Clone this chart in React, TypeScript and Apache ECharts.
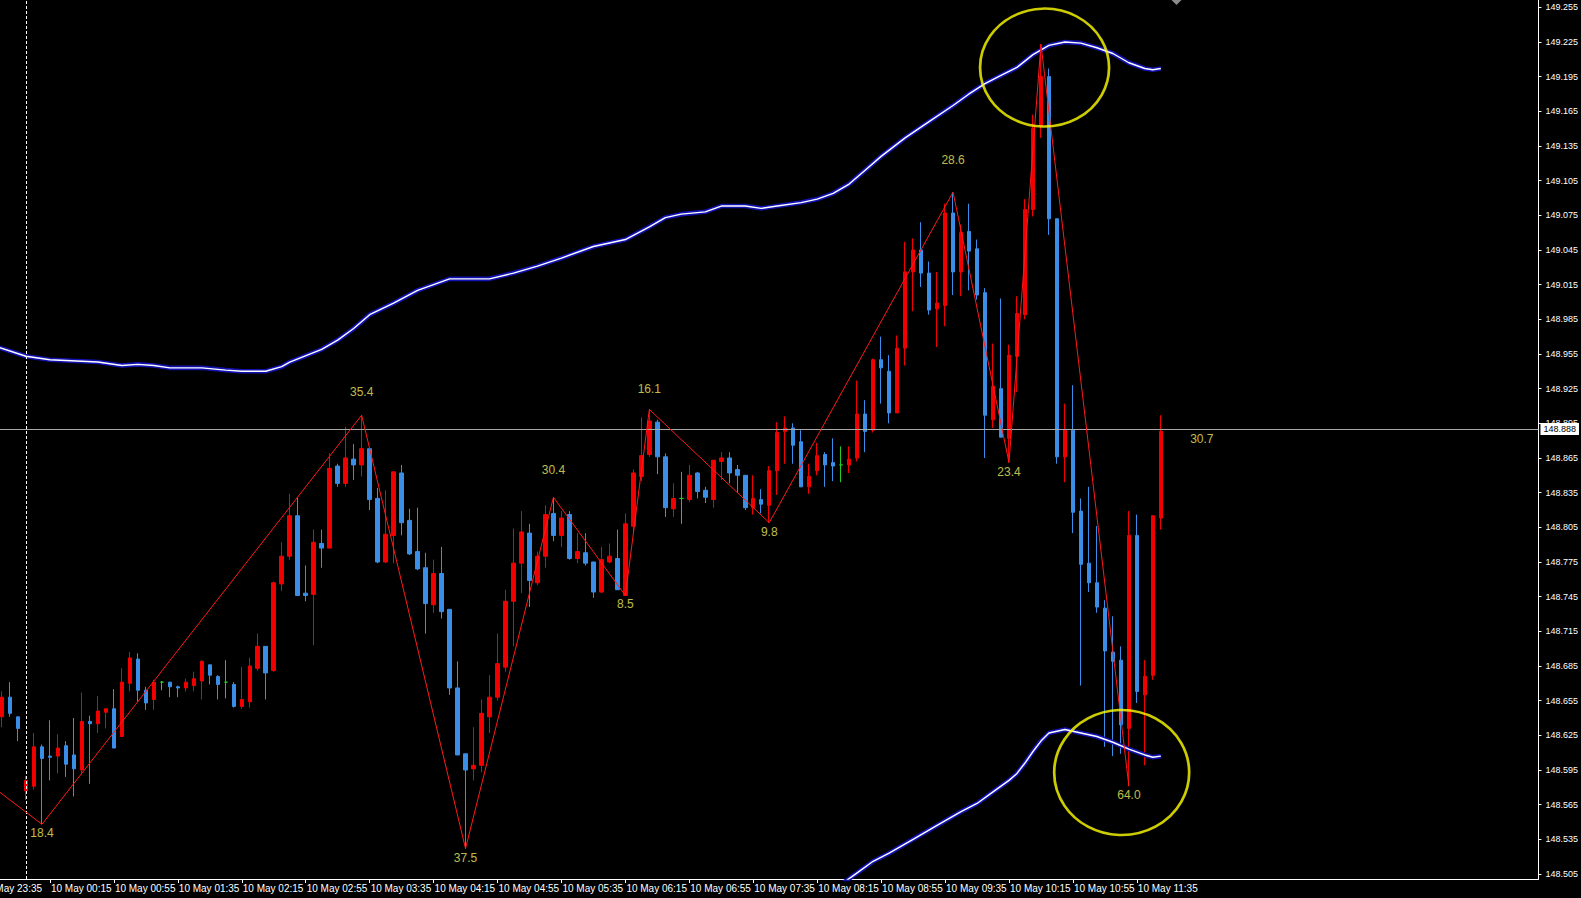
import React, { useEffect, useRef } from 'react';
import * as echarts from 'echarts';

// 5-minute bars, index 0 = 9 May 23:45
const OPEN = [
  148.641, 148.658, 148.641, 148.577, 148.581, 148.615, 148.607, 148.607, 148.616, 148.608,
  148.595, 148.637, 148.635, 148.645, 148.648, 148.624, 148.670, 148.691, 148.664, 148.656,
  148.671, 148.671, 148.667, 148.666, 148.668, 148.672, 148.686, 148.676, 148.671, 148.669,
  148.650, 148.654, 148.683, 148.702, 148.681, 148.756, 148.780, 148.815, 148.748, 148.747,
  148.791, 148.787, 148.858, 148.843, 148.864, 148.859, 148.873, 148.830, 148.775, 148.798,
  148.852, 148.811, 148.784, 148.770, 148.738, 148.765, 148.734, 148.666, 148.609, 148.596,
  148.599, 148.641, 148.658, 148.684, 148.741, 148.774, 148.800, 148.757, 148.780, 148.817,
  148.798, 148.816, 148.778, 148.783, 148.775, 148.749, 148.775, 148.778, 148.746, 148.806,
  148.849, 148.868, 148.896, 148.866, 148.821, 148.830, 148.829, 148.852, 148.837, 148.829,
  148.862, 148.865, 148.855, 148.850, 148.822, 148.829, 148.824, 148.854, 148.888, 148.891,
  148.879, 148.840, 148.854, 148.868, 148.861, 148.859, 148.859, 148.865, 148.903, 148.889,
  148.950, 148.940, 148.904, 148.960, 149.026, 149.045, 149.025, 148.994, 148.997, 149.077,
  149.026, 149.061, 149.046, 149.008, 148.898, 148.925, 148.882, 148.953, 148.989, 149.080,
  149.152, 149.195, 149.072, 148.866, 148.889, 148.819, 148.774, 148.757, 148.735, 148.697,
  148.690, 148.631, 148.798, 148.660, 148.677, 148.813,
];
const HIGH = [
  148.663, 148.671, 148.641, 148.590, 148.627, 148.617, 148.638, 148.626, 148.620, 148.640,
  148.662, 148.642, 148.659, 148.648, 148.665, 148.683, 148.697, 148.696, 148.667, 148.673,
  148.672, 148.671, 148.668, 148.674, 148.680, 148.690, 148.686, 148.677, 148.690, 148.671,
  148.684, 148.692, 148.713, 148.702, 148.758, 148.792, 148.834, 148.831, 148.772, 148.803,
  148.803, 148.869, 148.860, 148.892, 148.877, 148.902, 148.873, 148.839, 148.837, 148.853,
  148.859, 148.821, 148.822, 148.783, 148.777, 148.788, 148.734, 148.689, 148.609, 148.632,
  148.656, 148.677, 148.713, 148.751, 148.804, 148.819, 148.808, 148.784, 148.824, 148.831,
  148.819, 148.819, 148.800, 148.800, 148.775, 148.788, 148.791, 148.803, 148.817, 148.855,
  148.900, 148.907, 148.898, 148.869, 148.843, 148.853, 148.859, 148.853, 148.840, 148.863,
  148.870, 148.870, 148.859, 148.850, 148.850, 148.838, 148.858, 148.896, 148.901, 148.895,
  148.889, 148.860, 148.878, 148.870, 148.882, 148.875, 148.875, 148.932, 148.915, 148.951,
  148.970, 148.954, 148.971, 149.052, 149.055, 149.069, 149.035, 149.026, 149.085, 149.095,
  149.067, 149.085, 149.054, 149.012, 148.964, 149.003, 148.963, 149.005, 149.089, 149.162,
  149.223, 149.202, 149.072, 148.912, 148.928, 148.830, 148.840, 148.806, 148.742, 148.728,
  148.702, 148.819, 148.816, 148.690, 148.815, 148.902,
];
const LOW = [
  148.632, 148.641, 148.620, 148.569, 148.578, 148.548, 148.586, 148.592, 148.589, 148.572,
  148.591, 148.583, 148.627, 148.631, 148.614, 148.624, 148.663, 148.654, 148.647, 148.647,
  148.664, 148.658, 148.658, 148.663, 148.663, 148.656, 148.669, 148.656, 148.657, 148.649,
  148.648, 148.649, 148.681, 148.656, 148.680, 148.750, 148.777, 148.746, 148.741, 148.703,
  148.770, 148.787, 148.840, 148.840, 148.846, 148.849, 148.820, 148.774, 148.774, 148.774,
  148.798, 148.781, 148.768, 148.713, 148.731, 148.726, 148.660, 148.608, 148.527, 148.586,
  148.593, 148.627, 148.655, 148.680, 148.702, 148.748, 148.736, 148.755, 148.770, 148.793,
  148.788, 148.777, 148.774, 148.772, 148.744, 148.748, 148.774, 148.751, 148.746, 148.800,
  148.845, 148.866, 148.851, 148.814, 148.814, 148.808, 148.827, 148.830, 148.826, 148.822,
  148.846, 148.843, 148.835, 148.820, 148.816, 148.817, 148.809, 148.833, 148.860, 148.860,
  148.840, 148.834, 148.850, 148.840, 148.845, 148.844, 148.852, 148.862, 148.870, 148.887,
  148.912, 148.895, 148.904, 148.945, 148.992, 149.013, 148.989, 148.961, 148.979, 149.006,
  149.005, 149.010, 149.002, 148.865, 148.891, 148.883, 148.861, 148.922, 148.985, 149.074,
  149.142, 149.058, 148.860, 148.844, 148.800, 148.668, 148.749, 148.731, 148.615, 148.607,
  148.609, 148.581, 148.653, 148.599, 148.673, 148.803,
];
const CLOSE = [
  148.658, 148.644, 148.631, 148.586, 148.615, 148.605, 148.606, 148.614, 148.600, 148.596,
  148.637, 148.635, 148.646, 148.648, 148.614, 148.671, 148.692, 148.664, 148.653, 148.671,
  148.671, 148.667, 148.666, 148.671, 148.674, 148.689, 148.677, 148.669, 148.671, 148.650,
  148.656, 148.685, 148.702, 148.679, 148.757, 148.780, 148.815, 148.746, 148.746, 148.792,
  148.787, 148.856, 148.843, 148.865, 148.859, 148.873, 148.829, 148.775, 148.799, 148.853,
  148.809, 148.782, 148.769, 148.739, 148.765, 148.732, 148.666, 148.608, 148.595, 148.599,
  148.644, 148.658, 148.687, 148.741, 148.774, 148.801, 148.759, 148.780, 148.816, 148.798,
  148.813, 148.778, 148.784, 148.774, 148.749, 148.777, 148.780, 148.751, 148.808, 148.852,
  148.867, 148.897, 148.866, 148.822, 148.830, 148.830, 148.850, 148.836, 148.831, 148.863,
  148.865, 148.852, 148.850, 148.822, 148.830, 148.825, 148.854, 148.887, 148.891, 148.876,
  148.840, 148.849, 148.867, 148.859, 148.858, 148.859, 148.864, 148.903, 148.888, 148.950,
  148.943, 148.904, 148.960, 149.026, 149.045, 149.025, 148.993, 148.999, 149.077, 149.026,
  149.060, 149.044, 149.006, 148.902, 148.927, 148.883, 148.954, 148.990, 149.080, 149.150,
  149.195, 149.072, 148.866, 148.889, 148.818, 148.773, 148.757, 148.736, 148.698, 148.689,
  148.634, 148.798, 148.663, 148.676, 148.815, 148.888,
];

// upper / lower band (bar index, price)
const UPPER_IDX = [-1, 3, 6, 12, 15, 17, 19, 21, 25, 28, 30, 33, 35, 36, 40, 42, 44, 46, 49, 52, 56, 61, 64, 67, 70, 74, 78, 81, 83, 85, 88, 90, 93, 95, 97, 100, 102, 104, 106, 108, 110, 113, 116, 119, 121, 123, 125, 127, 129, 131, 133, 135, 137, 139, 141, 143, 144, 145];
const UPPER_PRICE = [148.962, 148.953, 148.950, 148.948, 148.945, 148.946, 148.945, 148.943, 148.943, 148.941, 148.940, 148.940, 148.944, 148.948, 148.959, 148.967, 148.977, 148.989, 148.999, 149.010, 149.020, 149.020, 149.025, 149.031, 149.038, 149.048, 149.054, 149.065, 149.073, 149.076, 149.078, 149.083, 149.083, 149.081, 149.083, 149.086, 149.089, 149.094, 149.102, 149.114, 149.126, 149.142, 149.156, 149.170, 149.180, 149.189, 149.196, 149.203, 149.214, 149.222, 149.225, 149.224, 149.220, 149.215, 149.207, 149.202, 149.201, 149.202];
const LOWER_IDX = [101, 103, 105, 107, 109, 111, 114, 117, 120, 122, 124, 126, 127, 128, 129, 130, 131, 133, 135, 137, 139, 141, 143, 144, 145];
const LOWER_PRICE = [148.478, 148.487, 148.496, 148.506, 148.516, 148.523, 148.535, 148.547, 148.559, 148.566, 148.576, 148.586, 148.592, 148.601, 148.611, 148.620, 148.627, 148.630, 148.627, 148.624, 148.619, 148.613, 148.608, 148.606, 148.607];

// zigzag pivots
const ZZ_IDX = [-30, 5, 45, 58, 69, 78, 81, 96, 119, 126, 130, 141];
const ZZ_PRICE = [148.732, 148.548, 148.902, 148.527, 148.831, 148.746, 148.907, 148.809, 149.095, 148.861, 149.223, 148.581];
const ZZ_LABEL = ['', '18.4', '35.4', '37.5', '30.4', '8.5', '16.1', '9.8', '28.6', '23.4', '36.2', '64.0'];
const CURRENT_LEG = '30.7';

// annotation circles (bar index, price)
const CIRCLE_IDX = [130.45, 140.1];
const CIRCLE_PRICE = [149.2028, 148.5928];

// axes
const TIME_TICK_IDX = [6, 14, 22, 30, 38, 46, 54, 62, 70, 78, 86, 94, 102, 110, 118, 126, 134, 142];
const TIME_TICK_TEXT = ['10 May 00:15', '10 May 00:55', '10 May 01:35', '10 May 02:15', '10 May 02:55', '10 May 03:35', '10 May 04:15', '10 May 04:55', '10 May 05:35', '10 May 06:15', '10 May 06:55', '10 May 07:35', '10 May 08:15', '10 May 08:55', '10 May 09:35', '10 May 10:15', '10 May 10:55', '10 May 11:35'];
const FIRST_TIME_TEXT = '9 May 23:35';
const DAY_SEPARATOR_IDX = 3;
const PRICE_TICKS = [148.505, 148.535, 148.565, 148.595, 148.625, 148.655, 148.685, 148.715, 148.745, 148.775, 148.805, 148.835, 148.865, 148.895, 148.925, 148.955, 148.985, 149.015, 149.045, 149.075, 149.105, 149.135, 149.165, 149.195, 149.225, 149.255];
const PRICE_MIN = 148.50066;
const PRICE_MAX = 149.2613;

const RED = '#f20000';
const BLUE = '#3a8ee8';
const GREEN = '#22cc22';
const YELLOW_TEXT = '#f2ee60';
const FONT = '"Liberation Sans", Arial, sans-serif';

// layout offsets of zigzag labels (px, relative to the pivot)
const LABEL_DY = [0, 9, -23, 9, -27, 8.5, -20, 9, -32, 9, -51, 9];

export default function App() {
  const ref = useRef<HTMLDivElement>(null);
  useEffect(() => {
    const el = ref.current!;
    const chart = echarts.init(el, undefined, { renderer: 'svg' });

    const candles = OPEN.map((o, i) => {
      const item: any = { value: [i, o, CLOSE[i], LOW[i], HIGH[i]] };
      if (o === CLOSE[i]) {
        item.itemStyle = { color: GREEN, color0: GREEN, borderColor: GREEN, borderColor0: GREEN };
      }
      return item;
    });
    const last = CLOSE[CLOSE.length - 1];
    const lastIdx = CLOSE.length - 1;

    const upper = UPPER_IDX.map((x, i) => [x, UPPER_PRICE[i]]);
    const lower = LOWER_IDX.map((x, i) => [x, LOWER_PRICE[i]]);
    const zz = ZZ_IDX.map((x, i) => [x, ZZ_PRICE[i]]);

    const labels: any[] = [];
    ZZ_IDX.forEach((x, i) => {
      if (!ZZ_LABEL[i]) return;
      labels.push({ name: ZZ_LABEL[i], value: [x, ZZ_PRICE[i]], label: { offset: [0, LABEL_DY[i]] } });
    });
    labels.push({ name: CURRENT_LEG, value: [lastIdx, last], label: { offset: [41, 8] } });

    const circleSizes = [[129, 118], [135, 125]];
    const circles = CIRCLE_IDX.map((x, i) => ({ value: [x, CIRCLE_PRICE[i]], symbolSize: circleSizes[i] }));

    const bandSeries = (data: number[][], name: string) => [
      {
        type: 'line', name: name + '-b', data, symbol: 'none', z: 3, silent: true,
        lineStyle: { color: '#1212b0', width: 4.6 },
      },
      {
        type: 'line', name: name + '-w', data, symbol: 'none', z: 4, silent: true,
        lineStyle: { color: '#ffffff', width: 1.4 },
      },
    ];

    const option: any = {
      animation: false,
      backgroundColor: '#000000',
      grid: { left: 0, right: 41, top: 0, bottom: 19, containLabel: false },
      xAxis: {
        type: 'value',
        min: -0.25,
        max: 192.25,
        position: 'bottom',
        splitLine: { show: false },
        axisLine: { show: true, onZero: false, lineStyle: { color: '#ffffff', width: 1 } },
        axisTick: { show: true, customValues: TIME_TICK_IDX, length: 4, lineStyle: { color: '#ffffff' } },
        axisLabel: {
          customValues: TIME_TICK_IDX,
          formatter: (v: number) => TIME_TICK_TEXT[TIME_TICK_IDX.indexOf(Math.round(v))] || '',
          color: '#ffffff',
          fontSize: 10,
          fontFamily: FONT,
          align: 'left',
          margin: 4,
          padding: [0, 0, 0, 1],
        },
      },
      yAxis: {
        type: 'value',
        position: 'right',
        min: PRICE_MIN,
        max: PRICE_MAX,
        scale: true,
        splitLine: { show: false },
        axisLine: { show: true, onZero: false, lineStyle: { color: '#ffffff', width: 1 } },
        axisTick: { show: true, customValues: PRICE_TICKS, length: 3, lineStyle: { color: '#ffffff' } },
        axisLabel: {
          customValues: PRICE_TICKS,
          formatter: (v: number) => v.toFixed(3),
          color: '#ffffff',
          fontSize: 9,
          fontFamily: FONT,
          margin: 7,
        },
      },
      graphic: [
        {
          type: 'text', x: -13, y: 883, silent: true,
          style: { text: FIRST_TIME_TEXT, fill: '#ffffff', font: '10px ' + FONT, verticalAlign: 'top' },
        },
        {
          type: 'polygon', silent: true,
          shape: { points: [[1171.5, 0], [1181.5, 0], [1176.5, 5]] },
          style: { fill: '#8a8a8a' },
        },
      ],
      series: [
        {
          type: 'candlestick',
          data: candles,
          barWidth: 4,
          z: 2,
          silent: true,
          itemStyle: { color: RED, color0: BLUE, borderColor: RED, borderColor0: BLUE, borderWidth: 1 },
          markLine: {
            silent: true,
            symbol: ['none', 'none'],
            animation: false,
            data: [
              {
                yAxis: last,
                lineStyle: { color: '#a8a8a8', width: 1, type: 'solid' },
                label: {
                  show: true, position: 'end', distance: 2,
                  formatter: last.toFixed(3),
                  color: '#000000', backgroundColor: '#ffffff',
                  padding: [2, 3, 1, 3], fontSize: 9, fontFamily: FONT,
                },
              },
              {
                xAxis: DAY_SEPARATOR_IDX,
                lineStyle: { color: '#ffffff', width: 1, type: [3, 2] },
                label: { show: false },
              },
            ],
          },
        },
        ...bandSeries(upper, 'upper'),
        ...bandSeries(lower, 'lower'),
        {
          type: 'line', name: 'zigzag', data: zz, symbol: 'none', z: 5, silent: true,
          lineStyle: { color: '#ff1a1a', width: 1 },
        },
        {
          type: 'scatter', name: 'zzlabels', data: labels, symbol: 'circle', symbolSize: 1, z: 6, silent: true,
          itemStyle: { color: 'transparent' },
          label: {
            show: true, position: 'inside', formatter: '{b}',
            color: YELLOW_TEXT, fontSize: 12, fontFamily: FONT,
          },
        },
        {
          type: 'scatter', name: 'circles', data: circles, symbol: 'circle', z: 7, silent: true,
          itemStyle: { color: 'transparent', borderColor: '#ffff00', borderWidth: 2.6 },
        },
      ],
    };

    chart.setOption(option);
    return () => chart.dispose();
  }, []);

  return (
    <div
      ref={ref}
      style={{ position: 'fixed', left: 0, top: 0, width: 1581, height: 898, background: '#000' }}
    />
  );
}
